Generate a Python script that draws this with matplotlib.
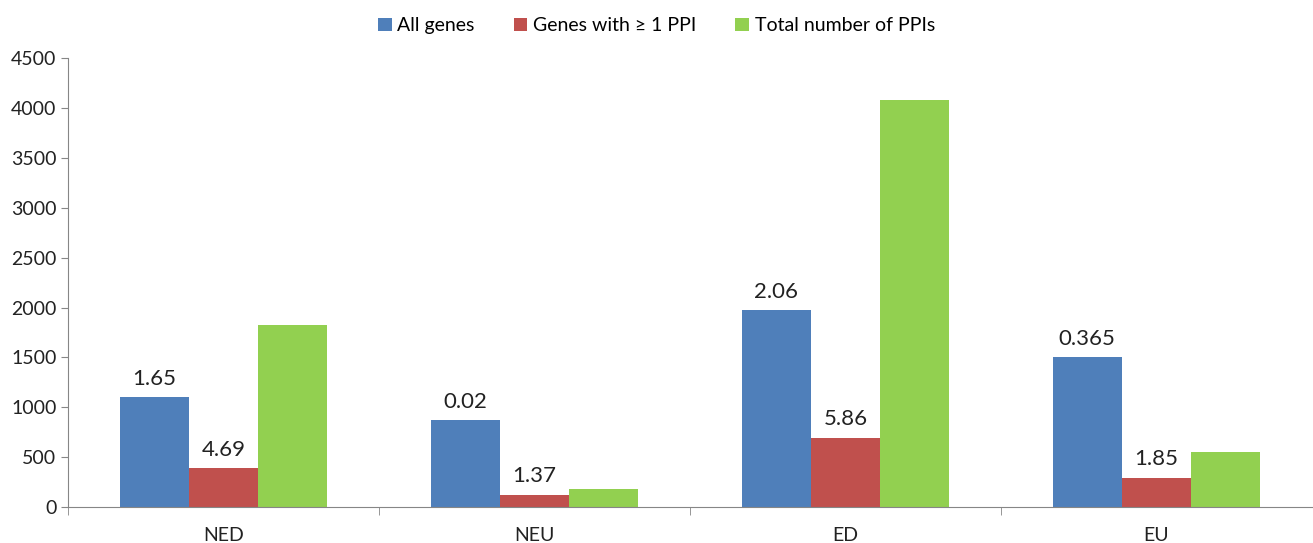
import numpy as np
import matplotlib.pyplot as plt
from matplotlib.ticker import FixedLocator

categories = ["NED", "NEU", "ED", "EU"]
all_genes = [1100, 875, 1975, 1505]
genes_ppi = [390, 125, 695, 297]
total_ppis = [1830, 177, 4085, 551]
labels_all = ["1.65", "0.02", "2.06", "0.365"]
labels_ppi = ["4.69", "1.37", "5.86", "1.85"]

plt.rcParams['font.family'] = ['Lato', 'DejaVu Sans']

fig = plt.figure(figsize=(13.13, 5.43), dpi=100)
ax = fig.add_axes([0.052, 0.066, 0.947, 0.827])

x = np.arange(len(categories))
w = 1 / 4.5
blue, red, green = "#4F7FBA", "#C0504D", "#92D050"

b1 = ax.bar(x - w, all_genes, w, color=blue, label="All genes")
b2 = ax.bar(x, genes_ppi, w, color=red, label="Genes with \u2265 1 PPI")
b3 = ax.bar(x + w, total_ppis, w, color=green, label="Total number of PPIs")

ax.bar_label(b1, labels_all, padding=6, fontsize=16, color="#222222")
ax.bar_label(b2, labels_ppi, padding=6, fontsize=16, color="#222222")

ax.set_xlim(-0.5, 3.5)
ax.set_ylim(0, 4500)
ax.set_yticks(range(0, 4501, 500))
ax.set_xticks(x)
ax.set_xticklabels(categories)
ax.xaxis.set_minor_locator(FixedLocator([-0.5, 0.5, 1.5, 2.5]))
ax.tick_params(axis="x", which="major", length=0, pad=14, labelsize=14, colors="#222222")
ax.tick_params(axis="x", which="minor", length=6, color="#868686", direction="out")
ax.tick_params(axis="y", length=5, color="#868686", labelsize=14, labelcolor="#222222")

for s in ["top", "right"]:
    ax.spines[s].set_visible(False)
ax.spines["left"].set_color("#868686")
ax.spines["bottom"].set_color("#868686")

fig.legend(handles=[b1, b2, b3], loc="upper center", bbox_to_anchor=(0.5, 1.0),
           ncol=3, frameon=False, fontsize=14, handlelength=0.7, handleheight=0.7,
           handletextpad=0.3, columnspacing=2.0)

plt.savefig("out.png", dpi=100)
